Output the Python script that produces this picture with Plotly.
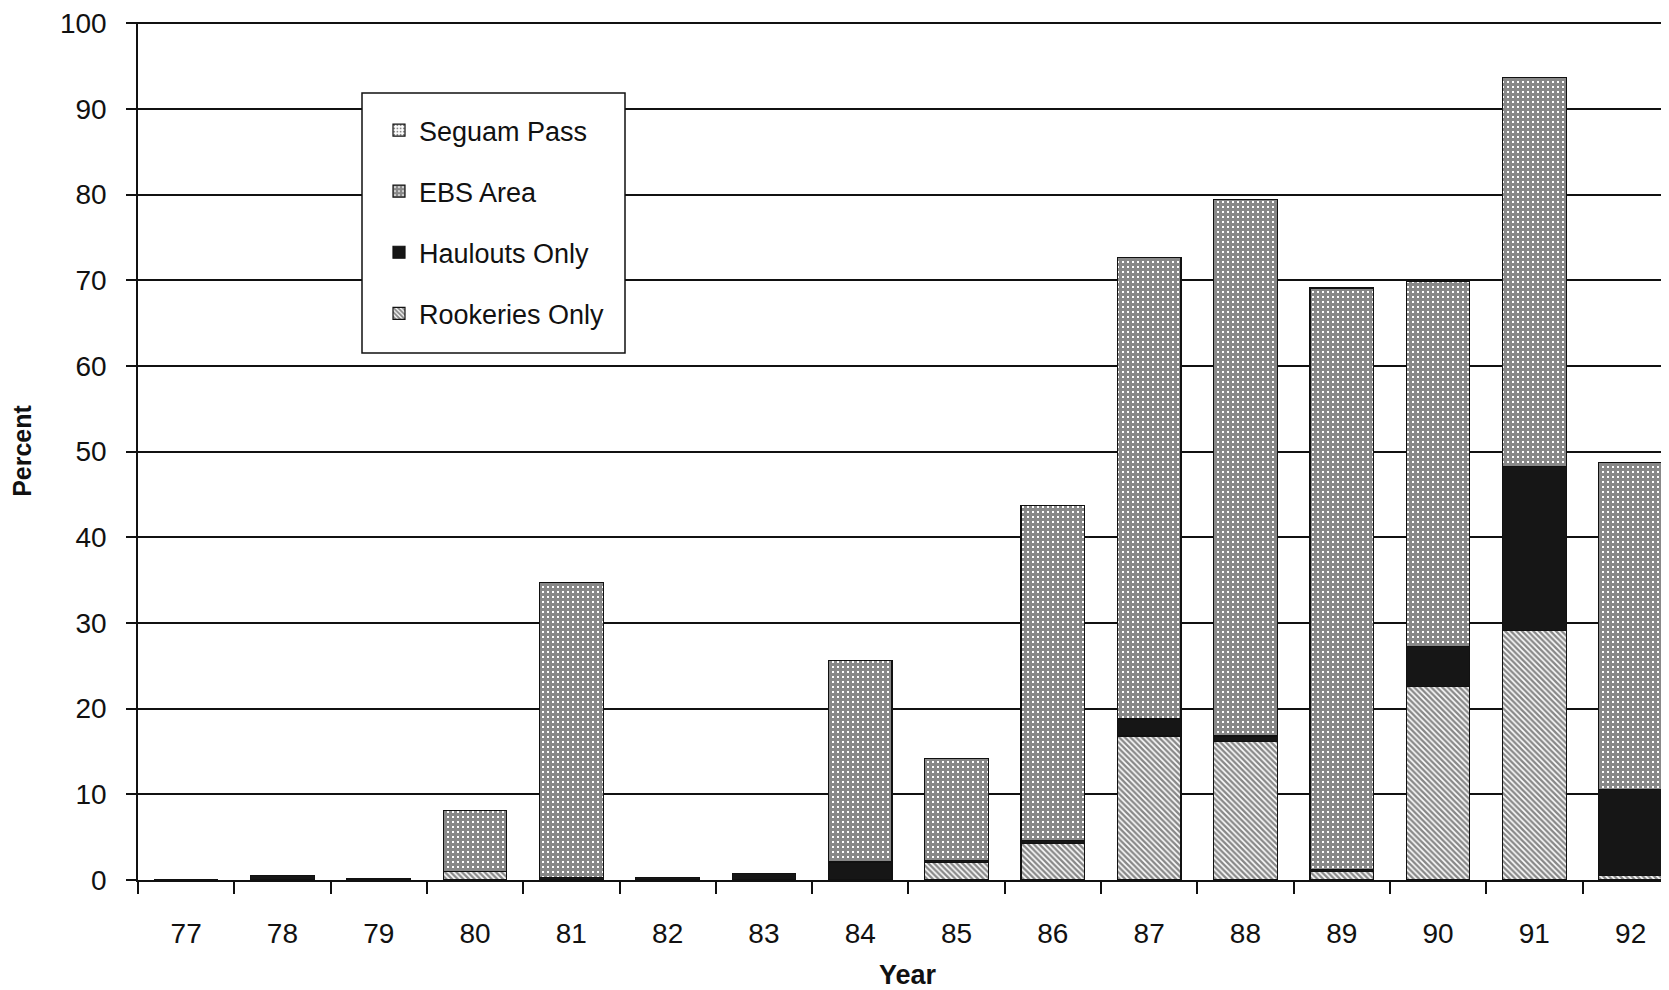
import plotly.graph_objects as go

years = [77, 78, 79, 80, 81, 82, 83, 84, 85, 86, 87, 88, 89, 90, 91, 92]
year_labels = [str(y) for y in years]
rookeries = [0, 0, 0, 1.0, 0, 0, 0, 0, 2.0, 4.3, 16.8, 16.2, 1.0, 22.6, 29.1, 0.5]
haulouts = [0, 0.5, 0.15, 0, 0.3, 0.25, 0.8, 2.1, 0.3, 0.3, 2.0, 0.6, 0.2, 4.7, 19.2, 10.1]
ebs = [0, 0, 0, 7.1, 34.4, 0, 0, 23.5, 11.9, 39.1, 53.9, 62.6, 67.9, 42.6, 45.4, 38.1]
seguam = [0] * 16
y_ticks = [0, 10, 20, 30, 40, 50, 60, 70, 80, 90, 100]

W, H = 1669, 990
# page has an 8px body offset; figure-coordinate margins compensate
ml, mr, mt, mb = 130, 0, 14, 118
plot_w = W - ml - mr
plot_h = H - mt - mb
px_per_cat = 96.3
x_lo = years[0] - 0.5
x_hi = x_lo + plot_w / px_per_cat
y_hi = 100.15  # a hair above 100 so the top gridline is drawn

FONT = "Liberation Sans"
INK = "#111111"
line = dict(color=INK, width=1.2)


def px_x(fx):
    return (fx - ml) / plot_w


def px_y(fy):
    return (H - mb - fy) / plot_h


fig = go.Figure()
fig.add_trace(go.Bar(
    x=years, y=rookeries, name="Rookeries Only", legendgroup="r", legendrank=4,
    marker=dict(color="white", line=line,
                pattern=dict(shape="\\", fgcolor=INK, bgcolor="white", size=4, solidity=0.6)),
))
fig.add_trace(go.Bar(
    x=years, y=haulouts, name="Haulouts Only", legendgroup="h", legendrank=3,
    marker=dict(color="#161616", line=line),
))
fig.add_trace(go.Bar(
    x=years, y=ebs, name="EBS Area", legendgroup="e", legendrank=2,
    marker=dict(color="white", line=line,
                pattern=dict(shape="+", fgcolor=INK, bgcolor="white", size=5, solidity=0.84)),
))
fig.add_trace(go.Bar(
    x=years, y=seguam, name="Seguam Pass", legendgroup="s", legendrank=1,
    marker=dict(color="white", line=line,
                pattern=dict(shape=".", fgcolor=INK, bgcolor="white", size=4, solidity=0.3)),
))

# legend frame (page box 362-625 x 93-353 -> figure coords minus 8px offset)
fig.add_shape(type="rect", xref="paper", yref="paper",
              x0=px_x(354), x1=px_x(617), y0=px_y(345), y1=px_y(85),
              fillcolor="white", line=dict(color=INK, width=1.5), layer="above")

fig.update_layout(
    width=W, height=H,
    margin=dict(l=ml, r=mr, t=mt, b=mb, autoexpand=False),
    paper_bgcolor="white", plot_bgcolor="white",
    barmode="stack", bargap=0.34,
    font=dict(family=FONT, color=INK, size=27),
    showlegend=True,
    legend=dict(
        x=px_x(371), y=px_y(98),
        xanchor="left", yanchor="top",
        bgcolor="rgba(0,0,0,0)", borderwidth=0,
        traceorder="grouped", tracegroupgap=23,
        font=dict(family=FONT, size=27, color=INK),
    ),
    xaxis=dict(
        range=[x_lo, x_hi], tickmode="array", tickvals=years, ticktext=year_labels,
        ticks="", showgrid=False, zeroline=False, automargin=False,
        showline=True, linecolor=INK, linewidth=1.5,
        tickfont=dict(family=FONT, size=28, color=INK),
        ticklabelstandoff=28,
        minor=dict(ticks="outside", tick0=x_lo, dtick=1, ticklen=12,
                   tickcolor=INK, tickwidth=1.5, showgrid=False),
        title=dict(text="<b>Year</b>", font=dict(family=FONT, size=27, color=INK), standoff=17),
    ),
    xaxis2=dict(
        overlaying="x", anchor="y", side="bottom",
        range=[x_lo, x_hi], tickmode="linear", tick0=x_lo, dtick=1,
        ticks="inside", ticklen=11, tickcolor=INK, tickwidth=1.5,
        showticklabels=False, showgrid=False, zeroline=False, showline=False,
    ),
    yaxis=dict(
        range=[0, y_hi], tickmode="array", tickvals=y_ticks,
        ticks="outside", ticklen=10, tickcolor=INK, tickwidth=1.5,
        showgrid=True, gridcolor=INK, gridwidth=1.5, automargin=False,
        showline=True, linecolor=INK, linewidth=1.5, zeroline=False,
        ticklabeloverflow="allow",
        tickfont=dict(family=FONT, size=28, color=INK),
        ticklabelstandoff=14,
        title=dict(text="<b>Percent</b>", font=dict(family=FONT, size=25, color=INK), standoff=43),
    ),
)

fig.write_html("out.html")
